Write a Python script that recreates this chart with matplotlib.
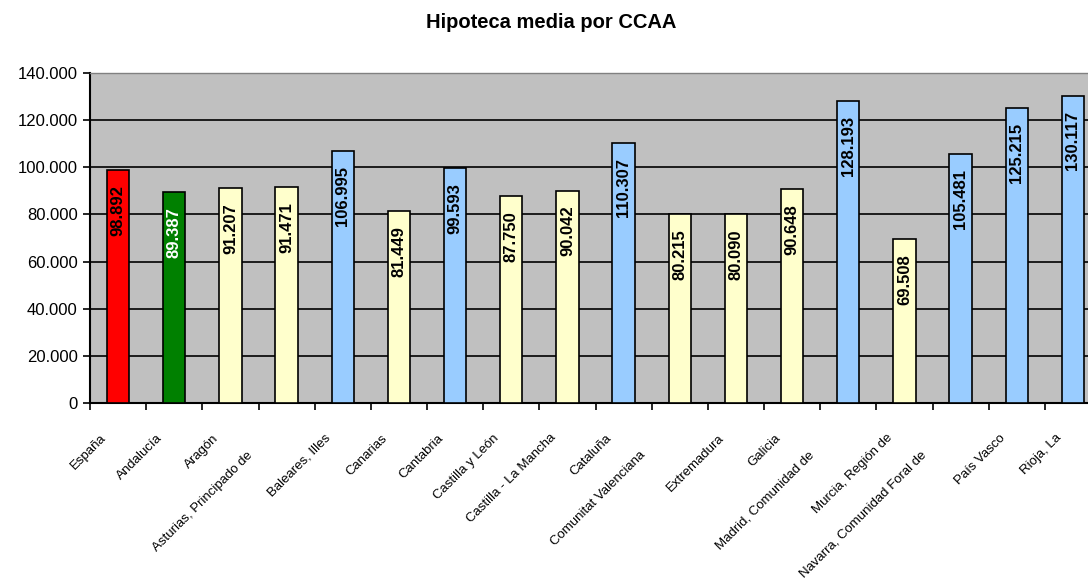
import matplotlib
matplotlib.use("Agg")
import matplotlib.pyplot as plt
import matplotlib.transforms as mtrans
from matplotlib.ticker import FuncFormatter

# ---- data ----
categories = ["España", "Andalucía", "Aragón", "Asturias, Principado de",
              "Baleares, Illes", "Canarias", "Cantabria", "Castilla y León",
              "Castilla - La Mancha", "Cataluña", "Comunitat Valenciana",
              "Extremadura", "Galicia", "Madrid, Comunidad de",
              "Murcia, Región de", "Navarra, Comunidad Foral de",
              "País Vasco", "Rioja, La"]
values = [98892, 89387, 91207, 91471, 106995, 81449, 99593, 87750, 90042,
          110307, 80215, 80090, 90648, 128193, 69508, 105481, 125215, 130117]
title = "Hipoteca media por CCAA"
y_ticks = [0, 20000, 40000, 60000, 80000, 100000, 120000, 140000]

# ---- style ----
FONT = ["Liberation Sans", "DejaVu Sans"]
plt.rcParams["font.family"] = FONT
DPI = 100
W, H = 1088, 581

def fmt(v, pos=None):
    v = int(round(v))
    return f"{v:,}".replace(",", ".")

ref = values[0]
colors = []
text_colors = []
for i, v in enumerate(values):
    if i == 0:
        colors.append("#FF0000"); text_colors.append("black")
    elif i == 1:
        colors.append("#008000"); text_colors.append("white")
    elif v > ref:
        colors.append("#99CCFF"); text_colors.append("black")
    else:
        colors.append("#FFFFCC"); text_colors.append("black")

fig = plt.figure(figsize=(W / DPI, H / DPI), dpi=DPI)
left, right, top, bottom = 90, 1101, 73, 403
ax = fig.add_axes([left / W, 1 - bottom / H, (right - left) / W, (bottom - top) / H])
ax.set_facecolor("#C0C0C0")

x = list(range(len(categories)))
ax.bar(x, values, width=0.4, color=colors, edgecolor="black", linewidth=1.2, zorder=3)

ax.set_xlim(-0.5, len(categories) - 0.5)
ax.set_ylim(0, 140000)
ax.set_yticks(y_ticks)
ax.yaxis.set_major_formatter(FuncFormatter(fmt))
ax.grid(axis="y", color="black", linewidth=1.2, zorder=1)
ax.set_axisbelow(True)

# category boundaries as ticks
ax.set_xticks([i - 0.5 for i in range(len(categories) + 1)])
ax.set_xticklabels([])
ax.tick_params(axis="x", length=5, width=1.2, direction="out", color="black")
ax.tick_params(axis="y", length=5, width=1.2, direction="out", color="black",
               labelsize=12, pad=4)

for s in ["left", "bottom"]:
    ax.spines[s].set_color("black")
    ax.spines[s].set_linewidth(1.5)
for s in ["top", "right"]:
    ax.spines[s].set_color("#808080")
    ax.spines[s].set_linewidth(1.0)

# category labels (rotated 45, two tiers)
tier = [0, 0, 0, 1, 0, 0, 0, 0, 0, 0, 1, 0, 0, 1, 0, 1, 0, 0]
base = mtrans.blended_transform_factory(ax.transData, ax.transAxes)
for i, cat in enumerate(categories):
    dx, dy = (-18, -29) if tier[i] == 0 else (-40, -46)
    tr = base + mtrans.ScaledTranslation(dx / DPI, dy / DPI, fig.dpi_scale_trans)
    ax.text(i, 0, cat, transform=tr, rotation=45, rotation_mode="anchor",
            ha="right", va="top", fontsize=9.5, clip_on=False)

# value labels inside bars
for i, v in enumerate(values):
    tr = ax.transData + mtrans.ScaledTranslation(0, -15 / DPI, fig.dpi_scale_trans)
    ax.text(i, v, fmt(v), transform=tr, rotation=90, ha="center", va="top",
            fontsize=12, fontweight="bold", color=text_colors[i], zorder=4)

fig.text(551 / W, 1 - 22 / H, title, ha="center", va="center",
         fontsize=14.5, fontweight="bold")

fig.savefig("out.png", dpi=DPI)
